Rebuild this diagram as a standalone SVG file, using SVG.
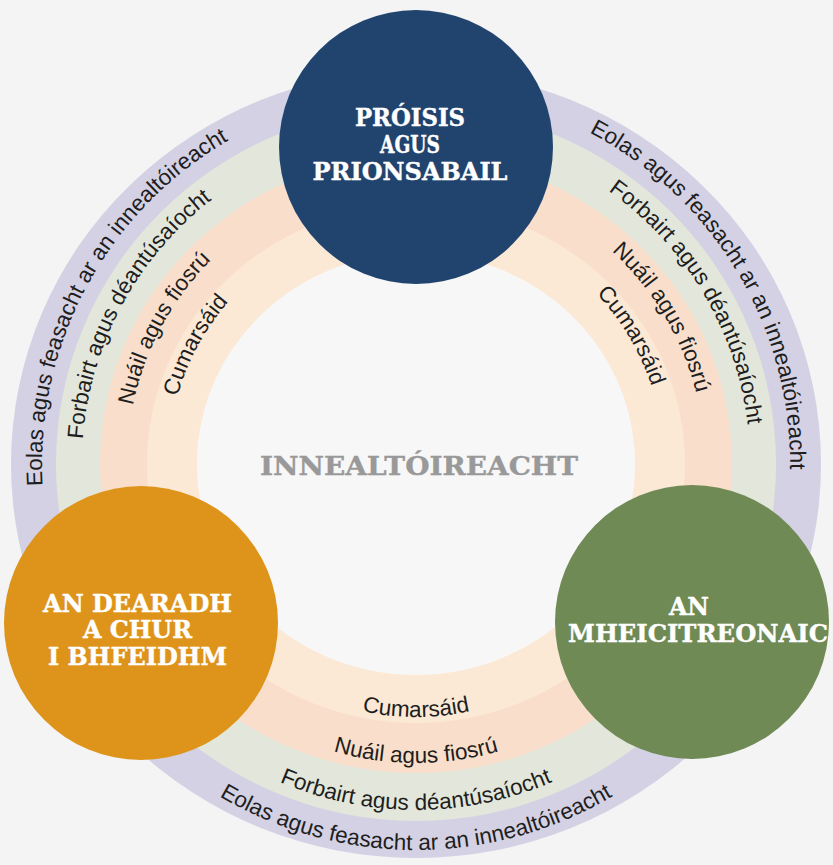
<svg xmlns="http://www.w3.org/2000/svg" width="833" height="865" viewBox="0 0 833 865">
  <style>
    .arc { font-family: "Liberation Sans", Arial, sans-serif; font-size: 22.5px; fill: #1e1e1e; }
    .lbl { font-family: "DejaVu Serif", "Liberation Serif", serif; font-weight: bold; font-size: 24px; fill: #ffffff; stroke: #ffffff; stroke-width: 0.4; text-anchor: middle; }
    .ctr { font-family: "DejaVu Serif", "Liberation Serif", serif; font-weight: bold; font-size: 26px; fill: #999999; stroke: #999999; stroke-width: 0.4; text-anchor: middle; }
  </style>
  <defs>
    <path id="pLo" d="M97.8,660.5 A374,374 0 0 1 404.9,90.2"/>
    <path id="pLg" d="M131.8,639.5 A334,334 0 0 1 406.1,130.1"/>
    <path id="pLp" d="M170.1,615.9 A289,289 0 0 1 407.4,175.1"/>
    <path id="pLl" d="M205.0,594.3 A248,248 0 0 1 408.6,216.1"/>
    <path id="pRo" d="M410.8,90.0 A374,374 0 0 1 742.5,646.5"/>
    <path id="pRg" d="M411.3,130.0 A334,334 0 0 1 707.5,627.0"/>
    <path id="pRp" d="M412.0,175.0 A289,289 0 0 1 668.3,605.0"/>
    <path id="pRl" d="M412.5,216.0 A248,248 0 0 1 632.5,585.0"/>
    <path id="pBo" d="M81.7,657 A386,386 0 0 0 750.3,657"/>
    <path id="pBg" d="M116.4,637 A346,346 0 0 0 715.6,637"/>
    <path id="pBp" d="M157.1,613.5 A299,299 0 0 0 674.9,613.5"/>
    <path id="pBl" d="M196.9,590.5 A253,253 0 0 0 635.1,590.5"/>
  </defs>

  <rect x="0" y="0" width="833" height="865" fill="#f4f4f4"/>

  <g id="rings">
    <ellipse cx="416" cy="464" rx="405" ry="394" fill="#d3d1e3"/>
    <ellipse cx="416" cy="464" rx="360" ry="357" fill="#e3e7db"/>
    <ellipse cx="416" cy="464" rx="316" ry="309" fill="#f9dfcb"/>
    <ellipse cx="416" cy="464" rx="269" ry="259" fill="#fbe9d6"/>
    <ellipse cx="416" cy="464" rx="219" ry="211" fill="#f7f7f7"/>
  </g>

  <g id="ring-labels">
    <text class="arc"><textPath href="#pLo" startOffset="50%" text-anchor="middle">Eolas agus feasacht ar an innealtóireacht</textPath></text>
    <text class="arc"><textPath href="#pLg" startOffset="50%" text-anchor="middle">Forbairt agus déantúsaíocht</textPath></text>
    <text class="arc"><textPath href="#pLp" startOffset="50%" text-anchor="middle">Nuáil agus fiosrú</textPath></text>
    <text class="arc"><textPath href="#pLl" startOffset="50%" text-anchor="middle">Cumarsáid</textPath></text>
    <text class="arc"><textPath href="#pRo" startOffset="50%" text-anchor="middle">Eolas agus feasacht ar an innealtóireacht</textPath></text>
    <text class="arc"><textPath href="#pRg" startOffset="50%" text-anchor="middle">Forbairt agus déantúsaíocht</textPath></text>
    <text class="arc"><textPath href="#pRp" startOffset="50%" text-anchor="middle">Nuáil agus fiosrú</textPath></text>
    <text class="arc"><textPath href="#pRl" startOffset="50%" text-anchor="middle">Cumarsáid</textPath></text>
    <text class="arc"><textPath href="#pBo" startOffset="50%" text-anchor="middle">Eolas agus feasacht ar an innealtóireacht</textPath></text>
    <text class="arc"><textPath href="#pBg" startOffset="50%" text-anchor="middle">Forbairt agus déantúsaíocht</textPath></text>
    <text class="arc"><textPath href="#pBp" startOffset="50%" text-anchor="middle">Nuáil agus fiosrú</textPath></text>
    <text class="arc"><textPath href="#pBl" startOffset="50%" text-anchor="middle">Cumarsáid</textPath></text>
  </g>

  <g id="center-label">
    <text class="ctr" x="419" y="475" textLength="318" lengthAdjust="spacingAndGlyphs">INNEALTÓIREACHT</text>
  </g>

  <g id="node-proisis">
    <circle cx="416" cy="147" r="137" fill="#21446f"/>
    <text class="lbl" x="410" y="126" textLength="110" lengthAdjust="spacingAndGlyphs">PRÓISIS</text>
    <text class="lbl" x="410" y="153" textLength="60" lengthAdjust="spacingAndGlyphs">AGUS</text>
    <text class="lbl" x="410" y="180" textLength="195" lengthAdjust="spacingAndGlyphs">PRIONSABAIL</text>
  </g>

  <g id="node-dearadh">
    <circle cx="141" cy="623" r="137" fill="#de941a"/>
    <text class="lbl" x="137.5" y="612" textLength="189" lengthAdjust="spacingAndGlyphs">AN DEARADH</text>
    <text class="lbl" x="137.5" y="638" textLength="109" lengthAdjust="spacingAndGlyphs">A CHUR</text>
    <text class="lbl" x="137.5" y="665" textLength="179" lengthAdjust="spacingAndGlyphs">I BHFEIDHM</text>
  </g>

  <g id="node-mheicitreonaic">
    <circle cx="692" cy="622" r="137" fill="#6f8a54"/>
    <text class="lbl" x="689" y="615" textLength="40" lengthAdjust="spacingAndGlyphs">AN</text>
    <text class="lbl" x="698" y="642" textLength="260" lengthAdjust="spacingAndGlyphs">MHEICITREONAIC</text>
  </g>

  <g id="connectors"></g>
</svg>
